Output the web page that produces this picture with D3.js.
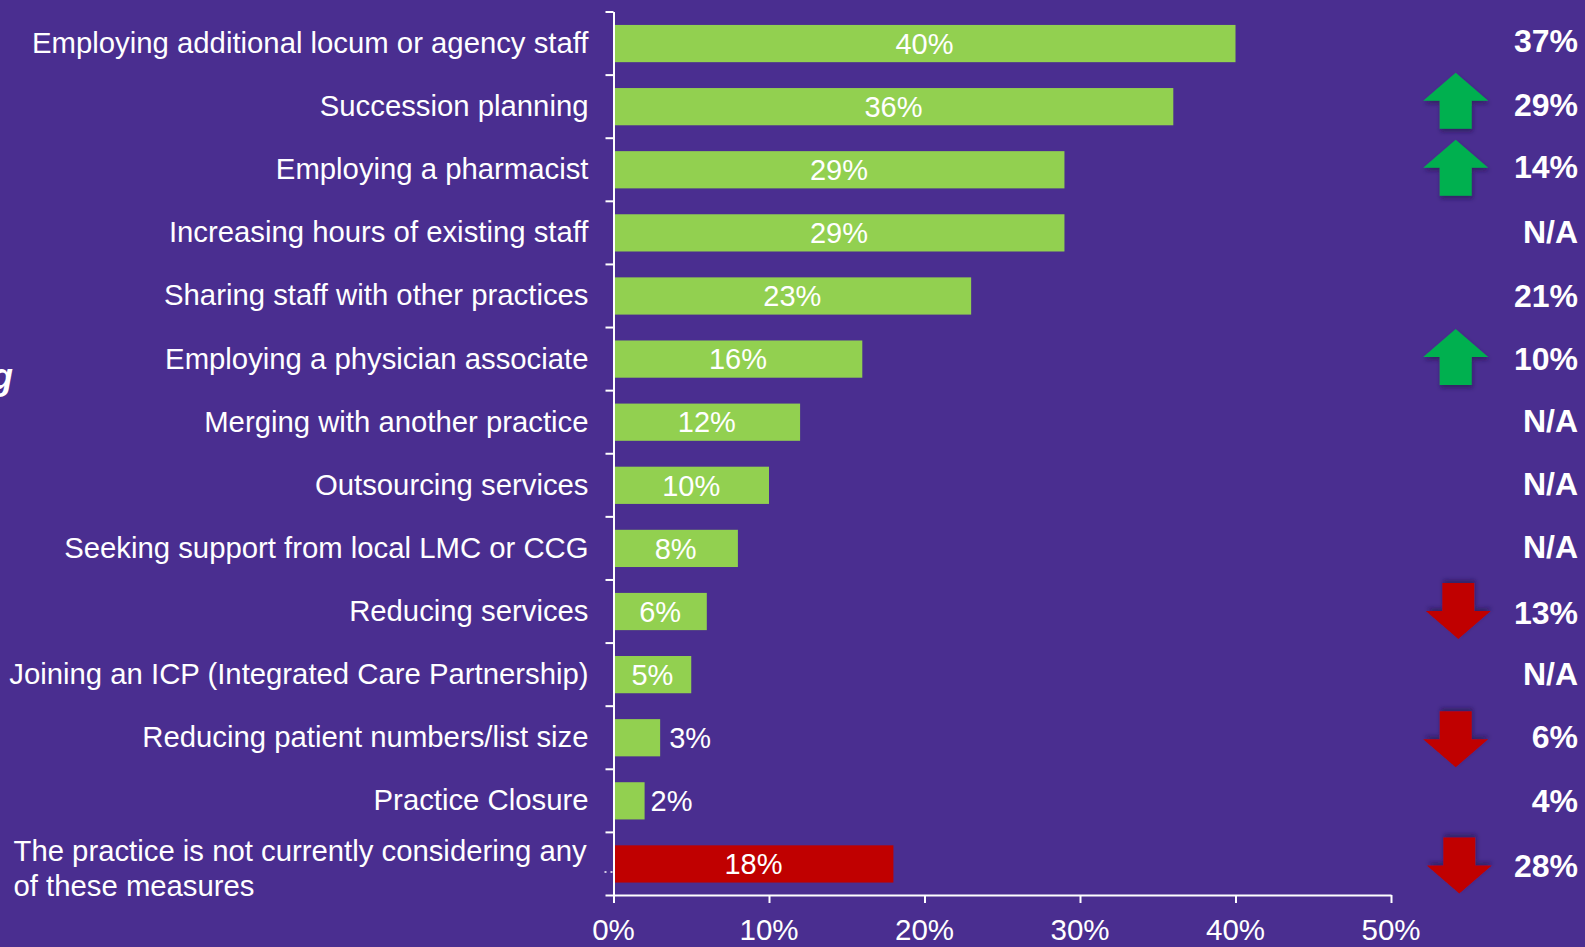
<!DOCTYPE html>
<html>
<head>
<meta charset="utf-8">
<script src="https://cdn.jsdelivr.net/npm/d3@7"></script>
<style>
	html,body{margin:0;padding:0;background:#4a2e90;overflow:hidden;}
	text{font-family:"Liberation Sans",Arial,sans-serif;fill:#fff;}
</style>
</head>
<body>
<svg id="chart" width="1585" height="947"></svg>
<script>
var categories=[
	"Employing additional locum or agency staff",
	"Succession planning",
	"Employing a pharmacist",
	"Increasing hours of existing staff",
	"Sharing staff with other practices",
	"Employing a physician associate",
	"Merging with another practice",
	"Outsourcing services",
	"Seeking support from local LMC or CCG",
	"Reducing services",
	"Joining an ICP (Integrated Care Partnership)",
	"Reducing patient numbers/list size",
	"Practice Closure",
	"The practice is not currently considering any|of these measures"
];
var values=[40,36,29,29,23,16,12,10,8,6,5,3,2,18];
var previous=["37%","29%","14%","N/A","21%","10%","N/A","N/A","N/A","13%","N/A","6%","4%","28%"];
var trend=["","up","up","","","up","","","","down","","down","","down"];
var xTicks=[0,10,20,30,40,50];

var colors={green:"#92d050",red:"#c00000",arrowUp:"#00b050",arrowDown:"#c00000",line:"#fff"};
var svg=d3.select("#chart");

// drop shadow used by the arrows
var shadow=svg.append("defs").append("filter").attr("id","shadow")
	.attr("x","-20%").attr("y","-20%").attr("width","150%").attr("height","150%");
shadow.append("feDropShadow").attr("dx",1).attr("dy",3).attr("stdDeviation",2)
	.attr("flood-color","#1c1040").attr("flood-opacity",0.55);

var xScale=d3.scaleLinear().domain([0,50]).range([613.5,1391]);
var rowEdge=d3.scaleLinear().domain([0,categories.length]).range([11.5,895]);
var yScale=d3.scaleBand().domain(d3.range(categories.length)).range([12,895.5]).paddingInner(0.41).paddingOuter(0.205);
function rowMid(i){return yScale(i)+yScale.bandwidth()/2;}

// cut off piece of the slide title
svg.append("text").attr("x",13).attr("y",389).attr("text-anchor","end")
	.attr("font-size",36).attr("font-weight","bold").attr("font-style","italic").text("g");

// bars
svg.selectAll("rect.bar").data(values).enter().append("rect")
	.attr("class","bar")
	.attr("x",xScale(0))
	.attr("y",function(d,i){return yScale(i);})
	.attr("width",function(d){return xScale(d)-xScale(0);})
	.attr("height",yScale.bandwidth())
	.attr("fill",function(d,i){return i==categories.length-1?colors.red:colors.green;});

// axes
var yAxis=d3.axisLeft(rowEdge).tickValues(d3.range(categories.length+1)).tickFormat("").tickSize(8).tickSizeOuter(0);
var xAxis=d3.axisBottom(xScale).tickValues(xTicks).tickFormat("").tickSize(8).tickSizeOuter(0);
[svg.append("g").attr("transform","translate("+xScale(0)+",0)").call(yAxis),
 svg.append("g").attr("transform","translate(0,"+rowEdge(categories.length)+")").call(xAxis)].forEach(function(g){
	g.selectAll("path,line").attr("stroke",colors.line).attr("stroke-width",2);
});

// stray dashes left of the axis on the last row
svg.append("line")
	.attr("x1",xScale(0)-9).attr("x2",xScale(0))
	.attr("y1",rowMid(categories.length-1)+8).attr("y2",rowMid(categories.length-1)+8)
	.attr("stroke",colors.line).attr("stroke-width",1.5).attr("stroke-dasharray","2 4");

svg.selectAll("text.xlab").data(xTicks).enter().append("text")
	.attr("class","xlab").attr("text-anchor","middle").attr("font-size",29.5)
	.attr("x",function(d){return xScale(d);}).attr("y",939.5)
	.text(function(d){return d+"%";});

// category labels, last one is two left aligned lines
svg.selectAll("text.cat").data(categories).enter().append("text")
	.attr("class","cat").attr("font-size",29.3)
	.each(function(d,i){
		var parts=d.split("|"), t=d3.select(this);
		if(parts.length==1){
			t.attr("text-anchor","end").attr("x",588.5).attr("y",rowMid(i)+9.5).text(d);
		}else{
			parts.forEach(function(p,k){
				t.append("tspan").attr("x",13.5).attr("y",861+k*35).text(p);
			});
		}
	});

// value labels, the short bars carry them outside
var outside=[9,6];
svg.selectAll("text.val").data(values).enter().append("text")
	.attr("class","val").attr("font-size",29)
	.attr("text-anchor",function(d){return d<5?"start":"middle";})
	.attr("x",function(d){
		if(d<5){return xScale(d)+outside[3-d];}
		return (xScale(0)+xScale(d))/2;
	})
	.attr("y",function(d,i){return rowMid(i)+10.2;})
	.text(function(d){return d+"%";});

// previous year column
var prevNudge=[-1.5,-1,-2,0,1,0.5,0,-0.5,-0.5,2.5,0,0,1,3];
svg.selectAll("text.prev").data(previous).enter().append("text")
	.attr("class","prev").attr("text-anchor","end").attr("font-size",32).attr("font-weight","bold")
	.attr("x",1578)
	.attr("y",function(d,i){return rowMid(i)+10+prevNudge[i];})
	.text(function(d){return d;});

// arrows, hand placed on the slide so each has its own nudge
var arrowShape=[[0,-28],[32.5,0],[16,0],[16,28],[-16,28],[-16,0],[-32.5,0]];
var arrowX=[0,1455.7,1455.7,0,0,1455.7,0,0,0,1458.3,0,1455.7,0,1459.3];
var arrowDy=[0,-6,-2,0,0,-2,0,0,0,-0.5,0,1.5,0,1.5];
var arrowRows=d3.range(trend.length).filter(function(k){return trend[k]!="";});
svg.selectAll("path.arrow").data(arrowRows).enter().append("path")
	.attr("class","arrow")
	.attr("d",d3.line()(arrowShape)+"Z")
	.attr("filter","url(#shadow)")
	.attr("fill",function(r){return trend[r]=="up"?colors.arrowUp:colors.arrowDown;})
	.attr("transform",function(r){
		var flip=trend[r]=="up"?1:-1;
		return "translate("+arrowX[r]+","+(rowMid(r)+arrowDy[r])+") scale(1,"+flip+")";
	});
</script>
</body>
</html>
